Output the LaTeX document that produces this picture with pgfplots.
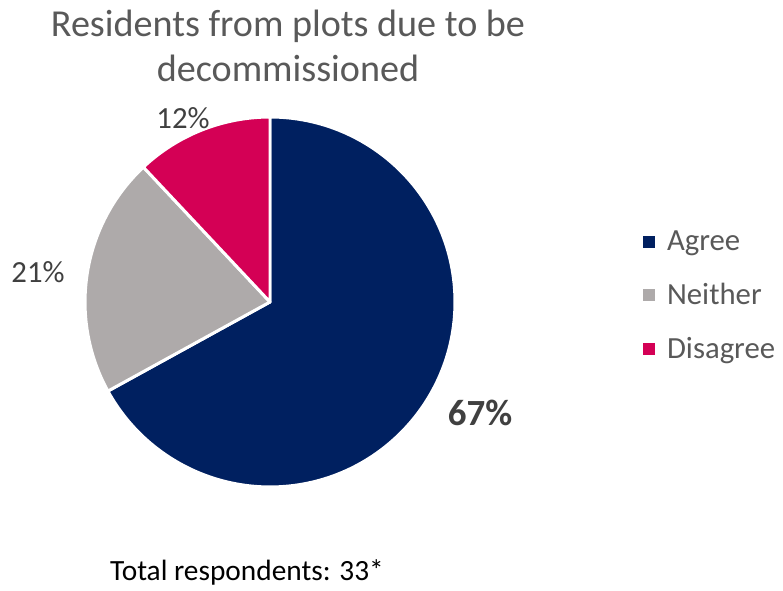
\documentclass[border=0pt]{standalone}
\usepackage{fontspec}
\setmainfont{Carlito}
\usepackage{pgfplots}
\usepackage{pgfplotstable}
\pgfplotsset{compat=1.18}

\definecolor{agree}{HTML}{002060}
\definecolor{neither}{HTML}{AEAAAA}
\definecolor{disagree}{HTML}{D40055}
\definecolor{titlegray}{HTML}{595959}
\definecolor{labelgray}{HTML}{404040}

% share of respondents (%), colour, label position (px coords, y up)
\pgfplotstableread{
label    value color    lx  ly
Agree    67    agree    480 173
Neither  21    neither  38  314
Disagree 12    disagree 183 468
}\piedata

\begin{document}
\begin{tikzpicture}
\begin{axis}[
    x=0.02cm, y=0.02cm,
    xmin=0, xmax=783, ymin=0, ymax=586,
    hide axis, clip=false,
    legend style={at={(axis cs:643,290)}, anchor=west, draw=none, fill=none,
        font=\fontsize{17.5}{20}\selectfont\color{titlegray},
        row sep=0.6cm, inner sep=0pt,
        nodes={inner sep=0pt, anchor=west}},
    legend cell align=left,
    legend image code/.code={\fill[#1] (0cm,-0.11cm) rectangle (0.22cm,0.11cm);
        \path (0.46cm,0cm);},
]
\def\cum{0}
\pgfplotsforeachungrouped \i in {0,1,2}{
    \pgfplotstablegetelem{\i}{value}\of\piedata \let\v\pgfplotsretval
    \pgfplotstablegetelem{\i}{color}\of\piedata \let\c\pgfplotsretval
    \pgfmathsetmacro\a{90-3.6*\cum}
    \pgfmathsetmacro\b{90-3.6*(\cum+\v)}
    \edef\temp{\noexpand\fill[fill=\c, draw=white, line width=1.7pt, line join=round]
        (axis cs:270,284) -- ++(\a:3.7cm) arc[start angle=\a, end angle=\b, radius=3.7cm] -- cycle;}
    \temp
    \pgfmathsetmacro\cum{\cum+\v}
}
\pgfplotsforeachungrouped \i in {0,1,2}{
    \pgfplotstablegetelem{\i}{value}\of\piedata \let\v\pgfplotsretval
    \pgfplotstablegetelem{\i}{lx}\of\piedata \let\lx\pgfplotsretval
    \pgfplotstablegetelem{\i}{ly}\of\piedata \let\ly\pgfplotsretval
    \ifnum\i=0
        \edef\temp{\noexpand\node[text=labelgray, font=\noexpand\fontsize{21}{24}\noexpand\selectfont\noexpand\bfseries]
            at (axis cs:\lx,\ly) {\v\noexpand\%};}
    \else
        \edef\temp{\noexpand\node[text=labelgray, font=\noexpand\fontsize{17.5}{20}\noexpand\selectfont]
            at (axis cs:\lx,\ly) {\v\noexpand\%};}
    \fi
    \temp
}
\addlegendimage{agree}
\addlegendentry{Agree}
\addlegendimage{neither}
\addlegendentry{Neither}
\addlegendimage{disagree}
\addlegendentry{Disagree}

\node[text=titlegray, align=center, font=\fontsize{21.7}{25.5}\selectfont]
    at (axis cs:288,540) {Residents from plots due to be\\decommissioned};
\node[text=black, font=\fontsize{16.7}{20}\selectfont]
    at (axis cs:247,14) {Total respondents: 33*};
\end{axis}
\path (current axis.south west) rectangle (current axis.north east);
\end{tikzpicture}
\end{document}
